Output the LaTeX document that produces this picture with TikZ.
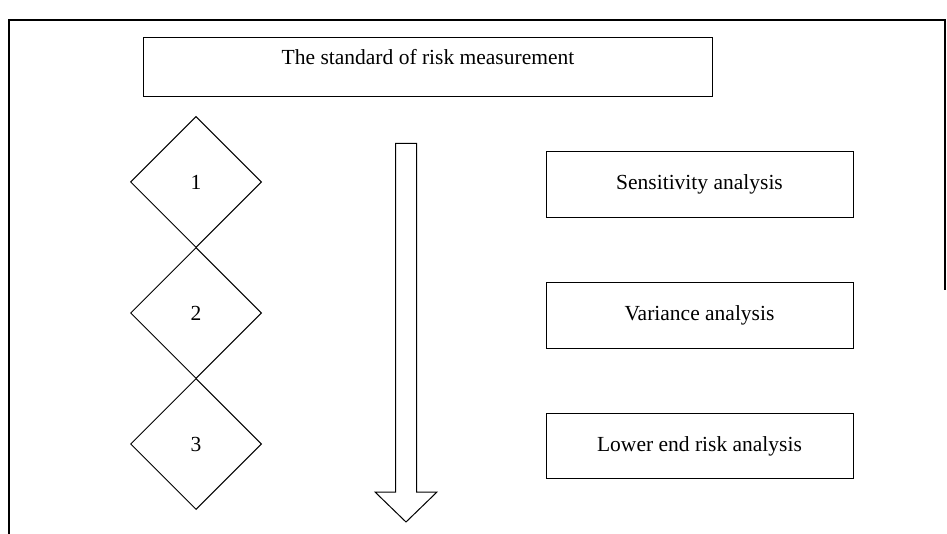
\documentclass[tikz,border=0pt]{standalone}
\usepackage{fontspec}
\setmainfont{Liberation Serif}
\usetikzlibrary{shapes.geometric}
\begin{document}
\begin{tikzpicture}[x=1pt,y=-1pt,
  every node/.style={font=\fontsize{21.5}{26}\selectfont},
  frameline/.style={line width=2pt, black},
  labelbox/.style={draw, line width=1pt, inner sep=0pt, minimum width=307pt, minimum height=65.5pt},
  stepdiamond/.style={draw, diamond, aspect=1, line width=1pt, inner sep=0pt, minimum width=131pt, minimum height=131pt},
  flowarrow/.style={draw, line width=1pt, line join=miter}]
  \useasboundingbox (0,0) rectangle (947,534);
  % outer frame
  \coordinate (fbl) at (9,534);
  \coordinate (ftl) at (9,20);
  \coordinate (ftr) at (945,20);
  \coordinate (fbr) at (945,290);
  \draw[frameline] (fbl) -- (ftl) -- (ftr) -- (fbr);
  % title box, text set in its upper part
  \node[draw, line width=1pt, inner sep=0pt, minimum width=569pt, minimum height=59pt] (title) at (428,67.5) {};
  \node (titletext) at (428,57.5) {The standard of risk measurement};
  % numbered steps
  \node[stepdiamond] (d1) at (196,182) {1};
  \node[stepdiamond] (d2) at (196,313) {2};
  \node[stepdiamond] (d3) at (196,444) {3};
  % downward arrow
  \draw[flowarrow] (395.5,143.5) -- (416.5,143.5) -- (416.5,492) -- (437,492) -- (406,522)
    -- (375,492) -- (395.5,492) -- cycle;
  % analysis boxes
  \node[labelbox] (sens) at (699.5,184.5) {Sensitivity analysis};
  \node[labelbox] (var) at (699.5,315.5) {Variance analysis};
  \node[labelbox] (low) at (699.5,446) {Lower end risk analysis};
\end{tikzpicture}
\end{document}
